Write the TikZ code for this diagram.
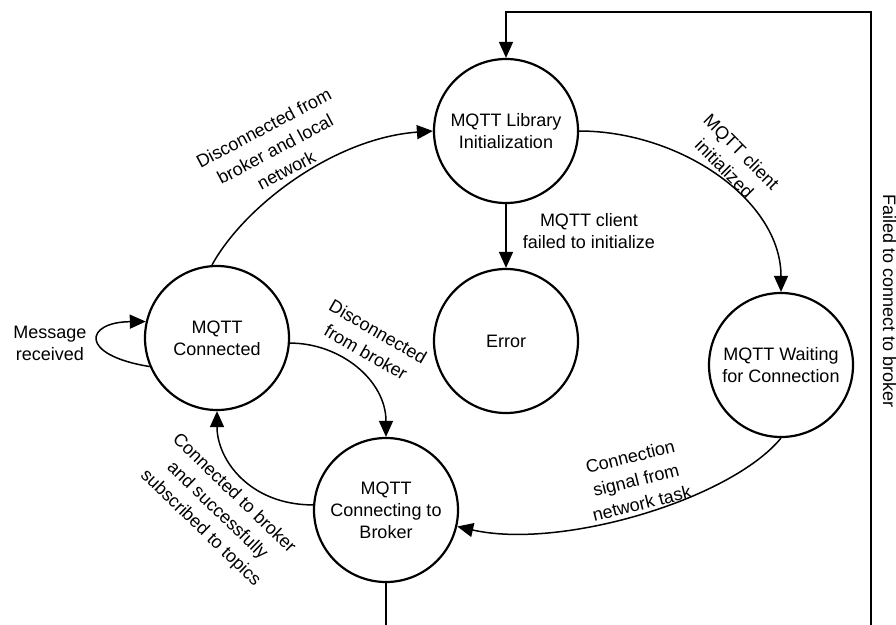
\documentclass[tikz,border=0pt]{standalone}
\usepackage{fontspec}
\setmainfont{Liberation Sans}
\usetikzlibrary{arrows.meta}
\begin{document}
\begin{tikzpicture}[x=1pt,y=-1pt,
  font=\fontsize{18}{22}\selectfont,
  state/.style={circle,draw,line width=2.2pt,minimum size=144pt,inner sep=0pt,align=center},
  lbl/.style={align=center,inner sep=0pt},
  rlbl/.style={align=center,inner sep=0pt,font=\fontsize{18}{24}\selectfont},
  tr/.style={-{Triangle[length=16pt,width=14pt]},line width=1.5pt}]
\clip (0,0) rectangle (896,624);
% states
\node[state] (lib)  at (506,131) {MQTT Library\\Initialization};
\node[state] (err)  at (506,341) {Error};
\node[state] (wait) at (781,365) {MQTT Waiting\\for Connection};
\node[state] (con)  at (217,338) {MQTT\\Connected};
\node[state] (cb)   at (386,510) {MQTT\\Connecting to\\Broker};
% connectors
\draw[tr] (lib.south) -- (err.north);
\draw[tr] (lib.east) .. controls (680,131) and (781,200) .. (wait.north);
\draw[tr] (wait.south) .. controls (730,500) and (560,550) .. (cb.-13);
\draw[tr] (cb.176) .. controls (250,505) and (217,460) .. (con.south);
\draw[tr] (con.-4) .. controls (340,343) and (386,380) .. (cb.north);
\draw[tr] (con.94) .. controls (245,205) and (335,138) .. (lib.west);
\draw[tr] (con.203) .. controls (78,355) and (85,322) .. (con.167);
\draw[tr] (cb.south) -- (386,640) -| (871,12) -| (lib.north);
% labels
\node[lbl] (lfail) at (589,231) {MQTT client\\failed to initialize};
\node[rlbl,rotate=-45] (linit) at (733,160) {MQTT client\\initialized};
\node[rlbl,rotate=14] (lsig) at (636,480) {Connection\\signal from\\network task};
\node[rlbl,rotate=-30] (ldisc) at (372,342) {Disconnected\\from broker};
\node[rlbl,rotate=28] (ldiscl) at (275,149) {Disconnected from\\broker and local\\network};
\node[rlbl,rotate=-44] (lconn) at (217,511) {Connected to broker\\and successfully\\subscribed to topics};
\node[lbl] (lmsg) at (50,343) {Message\\received};
\node[lbl,rotate=-90,anchor=base] (lfailc) at (883,301) {Failed to connect to broker};
\end{tikzpicture}
\end{document}
